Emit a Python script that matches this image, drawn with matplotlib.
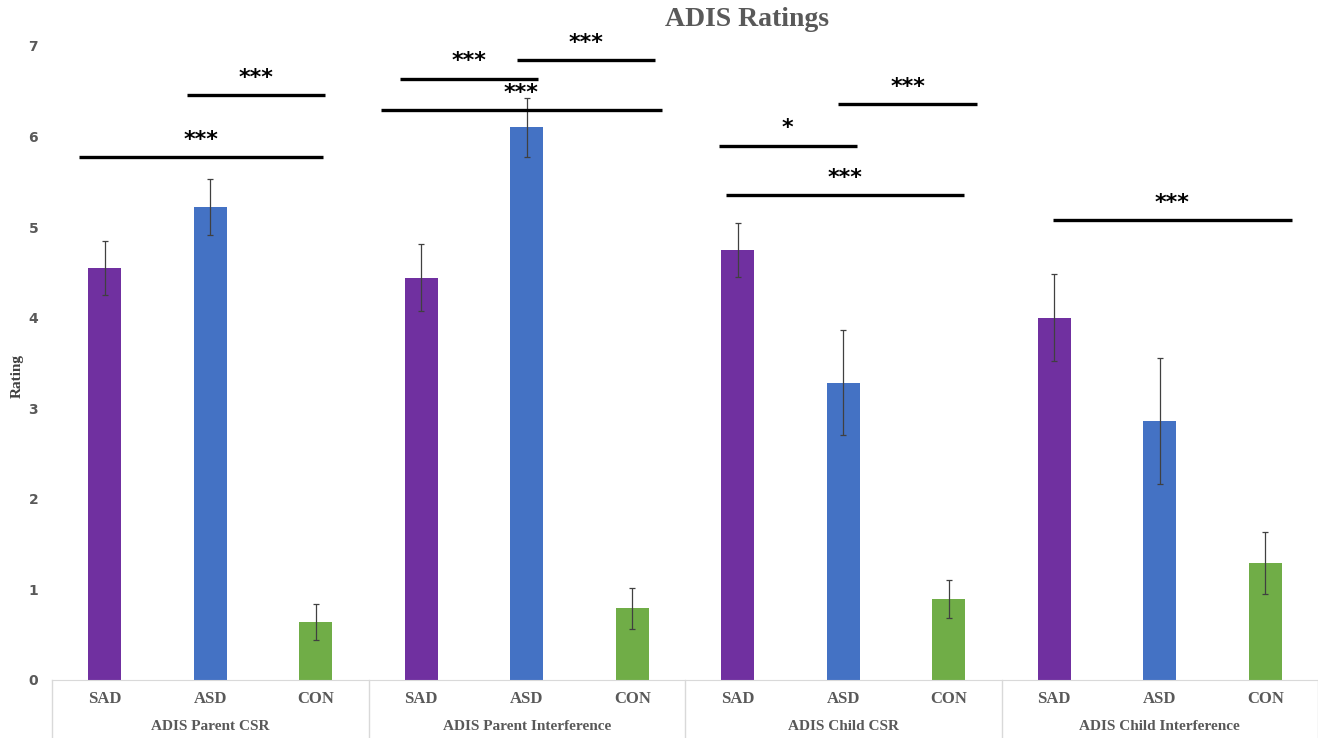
import matplotlib.pyplot as plt
import numpy as np

# data
groups = ['ADIS Parent CSR', 'ADIS Parent Interference', 'ADIS Child CSR', 'ADIS Child Interference']
conditions = ['SAD', 'ASD', 'CON']
sad = [4.55, 4.44, 4.75, 4.00]
asd = [5.22, 6.10, 3.28, 2.86]
con = [0.64, 0.79, 0.89, 1.29]
sad_err = [0.30, 0.37, 0.30, 0.48]
asd_err = [0.31, 0.33, 0.58, 0.70]
con_err = [0.20, 0.23, 0.21, 0.34]

# significance brackets: (x start, x end, height, label)
sig_lines = [
    (-0.24, 2.07, 5.77, '***'),
    (0.78, 2.09, 6.46, '***'),
    (2.62, 5.28, 6.29, '***'),
    (2.80, 4.11, 6.64, '***'),
    (3.91, 5.22, 6.84, '***'),
    (5.82, 7.13, 5.90, '*'),
    (6.95, 8.27, 6.36, '***'),
    (5.89, 8.14, 5.35, '***'),
    (8.99, 11.25, 5.08, '***'),
]

colors = ['#7030A0', '#4472C4', '#70AD47']
grey = '#595959'

fig = plt.figure(figsize=(13.18, 7.38), dpi=100)
ax = fig.add_axes([0.0395, 0.0786, 0.9605, 0.8591])

series = [sad, asd, con]
errs = [sad_err, asd_err, con_err]
for i in range(3):
    xs = np.arange(len(groups)) * 3 + i
    ax.bar(xs, series[i], width=0.31, color=colors[i], zorder=2)
    ax.errorbar(xs, series[i], yerr=errs[i], fmt='none', ecolor='#404040',
                elinewidth=0.9, capsize=2.5, capthick=0.9, zorder=3)

for x0, x1, y, lab in sig_lines:
    ax.plot([x0, x1], [y, y], color='black', lw=2.4, solid_capstyle='butt', zorder=4)
    ax.text((x0 + x1) / 2, y + 0.08, lab, ha='center', va='bottom',
            fontsize=16, fontweight='bold', color='black')

ax.set_xlim(-0.5, 11.5)
ax.set_ylim(0, 7)
ax.set_yticks(range(0, 8))
ax.set_yticklabels([str(v) for v in range(0, 8)], fontsize=10, fontweight='bold',
                   color=grey, family='Liberation Sans Narrow')
ax.tick_params(axis='y', length=0, pad=10)

ticks = np.arange(len(groups) * 3)
ax.set_xticks(ticks)
ax.set_xticklabels(conditions * len(groups), fontsize=12, fontweight='bold',
                   color=grey, family='Liberation Serif')
ax.tick_params(axis='x', length=0, pad=8)

for s in ['top', 'right', 'left']:
    ax.spines[s].set_visible(False)
ax.spines['bottom'].set_color('#d9d9d9')

trans = ax.get_xaxis_transform()
for k in range(len(groups) + 1):
    xb = k * 3 - 0.5
    ax.plot([xb, xb], [0, -0.0915], transform=trans, color='#d9d9d9', lw=1, clip_on=False)
for k, g in enumerate(groups):
    ax.text(k * 3 + 1, -0.074, g, transform=trans, ha='center', va='center',
            fontsize=11, fontweight='bold', color=grey, family='Liberation Serif')

fig.text(0.013, 0.49, 'Rating', rotation=90, ha='center', va='center', fontsize=11,
         fontweight='bold', color='#404040', family='Liberation Serif')
fig.text(0.567, 0.973, 'ADIS Ratings', ha='center', va='center', fontsize=20,
         fontweight='bold', color=grey, family='Liberation Serif')

fig.savefig('out.png', dpi=100)
